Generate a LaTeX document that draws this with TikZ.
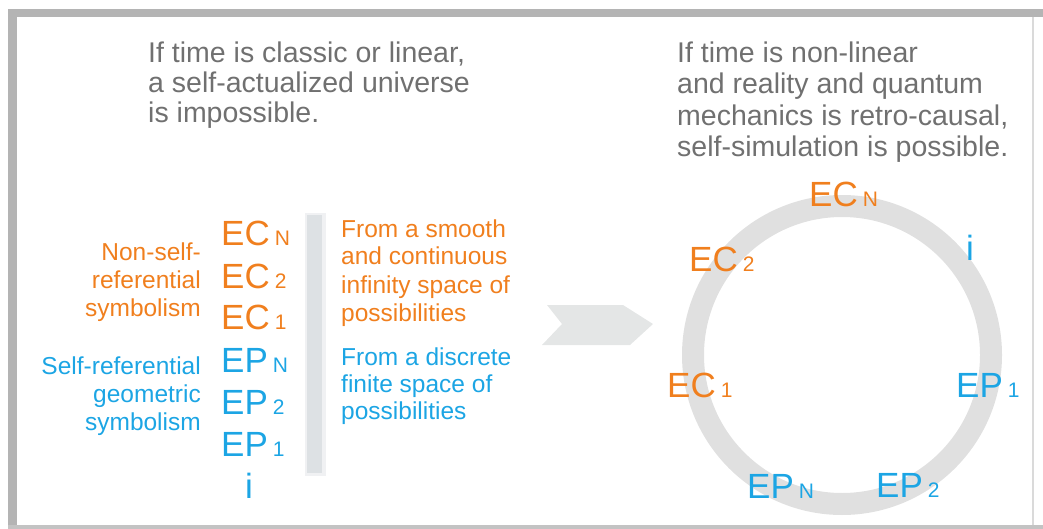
\documentclass[tikz,border=0pt]{standalone}
\usepackage{fontspec}
\setmainfont{Liberation Sans}
\definecolor{tgray}{HTML}{707070}
\definecolor{ocol}{HTML}{F07F1E}
\definecolor{bcol}{HTML}{1CA5E4}
\definecolor{ringc}{HTML}{E0E0E0}
\definecolor{framec}{HTML}{B4B4B4}
\definecolor{barc}{HTML}{DDE1E4}
\definecolor{arrc}{HTML}{E4E6E6}
\tikzset{
  ttl/.style={font=\fontsize{28.5}{30}\selectfont, text=tgray, anchor=base west, inner sep=0pt},
  lbl/.style={font=\fontsize{24.5}{27}\selectfont, inner sep=0pt},
  big/.style={font=\fontsize{35}{38}\selectfont, inner sep=0pt, anchor=base west},
  orng/.style={text=ocol},
  blu/.style={text=bcol},
}
\newcommand{\sbs}[1]{\hspace{5pt}{\fontsize{21}{22}\selectfont #1}}
\begin{document}
\begin{tikzpicture}[x=1pt,y=-1pt]
\useasboundingbox (0,0) rectangle (1043,529);
% frame
\fill[framec] (8,9) rectangle (1043,17);
\fill[framec] (8,9) rectangle (17,529);
\fill[framec!80] (8,525) rectangle (1043,529);
\fill[framec!50] (1032,17) rectangle (1034,525);
% titles
\node[ttl] (l1) at (148,63) {If time is classic or linear,};
\node[ttl] (l2) at (148,93) {a self-actualized universe};
\node[ttl] (l3) at (148,123) {is impossible.};
\node[ttl] (r1) at (677,63) {If time is non-linear};
\node[ttl] (r2) at (677,94) {and reality and quantum};
\node[ttl] (r3) at (677,126) {mechanics is retro-causal,};
\node[ttl] (r4) at (677,157) {self-simulation is possible.};
% left column
\node[big,orng] (cN) at (221,245) {EC\sbs{N}};
\node[big,orng] (c2) at (221,288) {EC\sbs{2}};
\node[big,orng] (c1) at (221,329) {EC\sbs{1}};
\node[big,blu] (pN) at (221,372) {EP\sbs{N}};
\node[big,blu] (p2) at (221,414) {EP\sbs{2}};
\node[big,blu] (p1) at (221,456) {EP\sbs{1}};
\node[big,blu,anchor=base] (iL) at (249,498) {i};
% left labels
\node[lbl,orng,anchor=base east] (n1) at (201,260) {Non-self-};
\node[lbl,orng,anchor=base east] (n2) at (201,288) {referential};
\node[lbl,orng,anchor=base east] (n3) at (201,316) {symbolism};
\node[lbl,blu,anchor=base east] (s1) at (201,374) {Self-referential};
\node[lbl,blu,anchor=base east] (s2) at (201,402) {geometric};
\node[lbl,blu,anchor=base east] (s3) at (201,430) {symbolism};
% bar
\fill[barc!45] (305,213) rectangle (326,476);
\fill[barc] (307,215) rectangle (322,473);
% right texts
\node[lbl,orng,anchor=base west] (f1) at (341,237) {From a smooth};
\node[lbl,orng,anchor=base west] (f2) at (341,265) {and continuous};
\node[lbl,orng,anchor=base west] (f3) at (341,293) {infinity space of};
\node[lbl,orng,anchor=base west] (f4) at (341,321) {possibilities};
\node[lbl,blu,anchor=base west] (g1) at (341,365) {From a discrete};
\node[lbl,blu,anchor=base west] (g2) at (341,392) {finite space of};
\node[lbl,blu,anchor=base west] (g3) at (341,419) {possibilities};
% chevron
\fill[arrc] (547,305) -- (623,305) -- (653,324) -- (630,345) -- (542,345) -- (562,324) -- cycle;
% ring
\draw[ringc, line width=22pt] (842,355) circle (149);
\node[big,orng] (rcN) at (809,207) {EC\sbs{N}};
\node[big,orng] (rc2) at (689,271) {EC\sbs{2}};
\node[big,blu,anchor=base] (ri) at (970,260) {i};
\node[big,orng] (rc1) at (667,397) {EC\sbs{1}};
\node[big,blu] (rp1) at (956,397) {EP\sbs{1}};
\node[big,blu] (rpN) at (747,498) {EP\sbs{N}};
\node[big,blu] (rp2) at (876,497) {EP\sbs{2}};
\end{tikzpicture}
\end{document}
